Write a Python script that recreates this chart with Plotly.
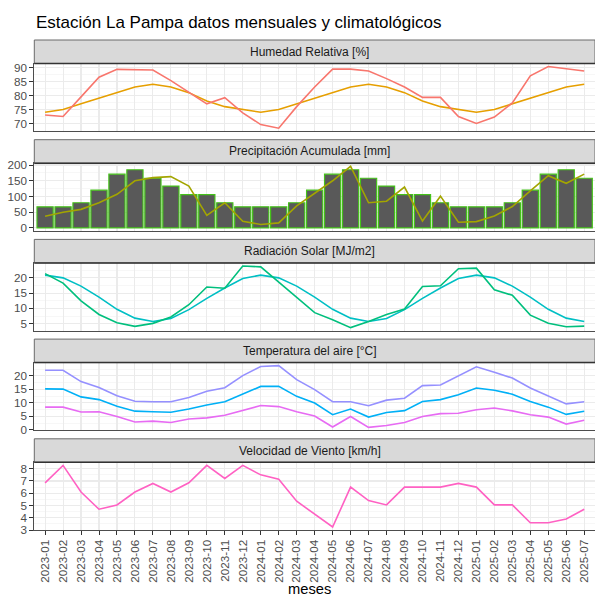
import plotly.graph_objects as go

# ---------------- data ----------------
meses = ["2023-01", "2023-02", "2023-03", "2023-04", "2023-05", "2023-06", "2023-07",
         "2023-08", "2023-09", "2023-10", "2023-11", "2023-12", "2024-01", "2024-02",
         "2024-03", "2024-04", "2024-05", "2024-06", "2024-07", "2024-08", "2024-09",
         "2024-10", "2024-11", "2024-12", "2025-01", "2025-02", "2025-03", "2025-04",
         "2025-05", "2025-06", "2025-07"]

hum_obs = [73.0, 72.5, 79.5, 86.5, 89.3, 89.2, 89.1, 85.3, 81.0, 77.0, 79.2, 73.8,
           69.6, 68.3, 76.0, 83.0, 89.4, 89.4, 88.7, 86.0, 83.0, 79.3, 79.3, 72.5,
           70.0, 72.3, 77.3, 87.0, 90.3, 89.5, 88.7]
hum_clim = [74, 75, 77, 79, 81, 83, 84, 83, 81, 78, 76, 75,
            74, 75, 77, 79, 81, 83, 84, 83, 81, 78, 76, 75,
            74, 75, 77, 79, 81, 83, 84]

pp_clim = [67, 67, 80, 120, 171, 185, 158, 133, 106, 106, 80, 67,
           67, 67, 80, 120, 171, 185, 158, 133, 106, 106, 80, 67,
           67, 67, 80, 120, 171, 185, 158]
pp_obs = [37, 50, 59, 80, 107, 150, 160, 163, 133, 40, 80, 21,
          11, 16, 70, 110, 150, 196, 80, 85, 130, 22, 101, 18,
          20, 38, 68, 118, 166, 142, 171]

rad_obs = [21.4, 18.3, 12.5, 8.0, 5.3, 4.1, 5.1, 7.2, 11.2, 17.0, 16.6, 23.9,
           23.6, 18.5, 13.5, 8.6, 6.3, 3.7, 5.7, 8.0, 9.8, 17.2, 17.4, 23.0,
           23.2, 16.1, 14.3, 7.8, 5.1, 4.0, 4.2]
rad_clim = [20.9, 20.0, 17.3, 13.7, 9.7, 6.8, 5.7, 6.7, 9.6, 13.3, 16.7, 19.8,
            20.9, 20.0, 17.3, 13.7, 9.7, 6.8, 5.7, 6.7, 9.6, 13.3, 16.7, 19.8,
            20.9, 20.0, 17.3, 13.7, 9.7, 6.8, 5.7]

t_max = [22.1, 22.1, 17.9, 15.7, 12.6, 10.6, 10.4, 10.4, 12.0, 14.3, 15.6, 20.1,
         23.5, 23.8, 18.6, 14.9, 10.4, 10.4, 8.9, 11.0, 11.7, 16.4, 16.6, 19.9,
         23.4, 21.4, 19.2, 15.5, 12.5, 9.6, 10.4]
t_med = [15.2, 15.1, 12.2, 11.2, 8.7, 6.9, 6.7, 6.5, 7.7, 9.2, 10.4, 13.4,
         16.1, 16.1, 12.4, 9.9, 5.6, 7.7, 4.7, 6.4, 7.1, 10.5, 11.2, 13.0,
         15.5, 14.7, 13.2, 10.5, 8.4, 5.7, 6.9]
t_min = [8.4, 8.4, 6.6, 6.7, 4.9, 2.9, 3.2, 2.7, 4.0, 4.4, 5.4, 7.1,
         9.0, 8.6, 6.7, 5.1, 1.0, 4.9, 0.9, 1.6, 2.7, 4.9, 6.0, 6.1,
         7.4, 8.1, 7.0, 5.6, 4.7, 2.1, 3.5]

viento = [6.85, 8.27, 6.1, 4.7, 5.05, 6.1, 6.8, 6.1, 6.85, 8.27, 7.2, 8.27,
          7.5, 7.15, 5.35, 4.3, 3.25, 6.5, 5.4, 5.05, 6.5, 6.5, 6.5, 6.8,
          6.5, 5.05, 5.05, 3.6, 3.6, 3.9, 4.7]

titulos = ["Humedad Relativa [%]", "Precipitación Acumulada [mm]", "Radiación Solar [MJ/m2]",
           "Temperatura del aire [°C]", "Velocidad de Viento [km/h]"]
titulo = "Estación La Pampa datos mensuales y climatológicos"
eje_x = "meses"

# ---------------- layout helpers ----------------
W, H = 595, 596
FONT = "Liberation Sans, Arial, Helvetica, sans-serif"
X_LEFT = 34.3 / W


def py(px):
    return 1 - px / H


def expanded(values_lists, include_zero=False):
    vals = [v for lst in values_lists for v in lst]
    lo, hi = min(vals), max(vals)
    if include_zero:
        lo = min(lo, 0)
    pad = 0.05 * (hi - lo)
    return [lo - pad, hi + pad]


fig = go.Figure()

LW = 1.6
# panel 1
fig.add_trace(go.Scatter(x=meses, y=hum_clim, mode="lines", line=dict(color="#E69F00", width=LW),
                         xaxis="x", yaxis="y"))
fig.add_trace(go.Scatter(x=meses, y=hum_obs, mode="lines", line=dict(color="#F8766D", width=LW),
                         xaxis="x", yaxis="y"))
# panel 2
fig.add_trace(go.Bar(x=meses, y=pp_clim, width=0.9,
                     marker=dict(color="#595959", line=dict(color="#45C21A", width=1.2)),
                     xaxis="x2", yaxis="y2"))
fig.add_trace(go.Scatter(x=meses, y=pp_obs, mode="lines", line=dict(color="#A3A500", width=LW),
                         xaxis="x2", yaxis="y2"))
# panel 3
fig.add_trace(go.Scatter(x=meses, y=rad_clim, mode="lines", line=dict(color="#00BFC4", width=LW),
                         xaxis="x3", yaxis="y3"))
fig.add_trace(go.Scatter(x=meses, y=rad_obs, mode="lines", line=dict(color="#00BF7D", width=LW),
                         xaxis="x3", yaxis="y3"))
# panel 4
fig.add_trace(go.Scatter(x=meses, y=t_max, mode="lines", line=dict(color="#9590FF", width=LW),
                         xaxis="x4", yaxis="y4"))
fig.add_trace(go.Scatter(x=meses, y=t_med, mode="lines", line=dict(color="#00B0F6", width=LW),
                         xaxis="x4", yaxis="y4"))
fig.add_trace(go.Scatter(x=meses, y=t_min, mode="lines", line=dict(color="#E76BF3", width=LW),
                         xaxis="x4", yaxis="y4"))
# panel 5
fig.add_trace(go.Scatter(x=meses, y=viento, mode="lines", line=dict(color="#FF61C3", width=LW),
                         xaxis="x5", yaxis="y5"))

ranges = [
    expanded([hum_obs, hum_clim]),
    expanded([pp_obs, pp_clim], include_zero=True),
    expanded([rad_obs, rad_clim]),
    expanded([t_max, t_med, t_min]),
    expanded([viento]),
]
dticks = [5, 50, 5, 5, 1]

PITCH = 99.7
STRIP_H = 23.5
PLOT_H = 67.8
BORDER = "#4d4d4d"

shapes = []
annotations = []
layout = dict(
    width=W, height=H,
    margin=dict(l=0, r=0, t=0, b=0, autoexpand=False),
    paper_bgcolor="white", plot_bgcolor="white",
    showlegend=False,
    font=dict(family=FONT),
    bargap=0,
)

for k in range(5):
    strip_top = 40 + PITCH * k
    strip_bot = strip_top + STRIP_H
    plot_bot = strip_bot + PLOT_H
    sfx = "" if k == 0 else str(k + 1)
    last = (k == 4)
    layout["xaxis" + sfx] = dict(
        domain=[X_LEFT, 1], anchor="y" + sfx, type="category", automargin=False,
        range=[-0.6, len(meses) - 0.4],
        tickmode="array", tickvals=meses, ticktext=meses,
        showgrid=True, gridcolor="#EBEBEB", gridwidth=1.1,
        showline=True, mirror=True, linecolor=BORDER, linewidth=1,
        ticks="outside" if last else "", ticklen=4, tickcolor="#333333",
        showticklabels=last, tickangle=-90,
        tickfont=dict(size=11.7, color="#4D4D4D", family=FONT),
        zeroline=False, fixedrange=True,
    )
    layout["yaxis" + sfx] = dict(
        domain=[py(plot_bot), py(strip_bot)], anchor="x" + sfx, automargin=False,
        range=ranges[k], dtick=dticks[k], tick0=0,
        showgrid=True, gridcolor="#EBEBEB", gridwidth=1.1,
        minor=dict(dtick=dticks[k] / 2, tick0=0, showgrid=True, gridcolor="#F2F2F2", gridwidth=0.6),
        showline=True, mirror=True, linecolor=BORDER, linewidth=1,
        ticks="outside", ticklen=4, tickcolor="#333333",
        tickfont=dict(size=11.7, color="#4D4D4D", family=FONT),
        zeroline=False, fixedrange=True,
    )
    # strip
    shapes.append(dict(type="rect", xref="paper", yref="paper",
                       x0=X_LEFT, x1=1, y0=py(strip_bot), y1=py(strip_top),
                       fillcolor="#D9D9D9", line=dict(color="#6b6b6b", width=1), layer="above"))
    shapes.append(dict(type="line", xref="paper", yref="paper",
                       x0=X_LEFT, x1=1, y0=py(strip_bot), y1=py(strip_bot),
                       line=dict(color="#333333", width=1.5), layer="above"))
    annotations.append(dict(text=titulos[k], xref="paper", yref="paper",
                            x=(X_LEFT + 1) / 2 - 0.008, y=py((strip_top + strip_bot) / 2),
                            xanchor="center", yanchor="middle", showarrow=False,
                            font=dict(size=12, color="#1A1A1A", family=FONT)))

annotations.append(dict(text=titulo, xref="paper", yref="paper", x=34 / W, y=py(22),
                        xanchor="left", yanchor="middle", showarrow=False,
                        font=dict(size=17, color="black", family=FONT)))
annotations.append(dict(text=eje_x, xref="paper", yref="paper", x=(X_LEFT + 1) / 2 - 0.008,
                        y=py(589), xanchor="center", yanchor="middle", showarrow=False,
                        font=dict(size=14.7, color="black", family=FONT)))

layout["shapes"] = shapes
layout["annotations"] = annotations
fig.update_layout(**layout)

fig.write_html(
    "out.html",
    config={"displayModeBar": False, "staticPlot": True},
    post_script="document.body.style.margin='0';document.body.style.overflow='hidden';",
)
